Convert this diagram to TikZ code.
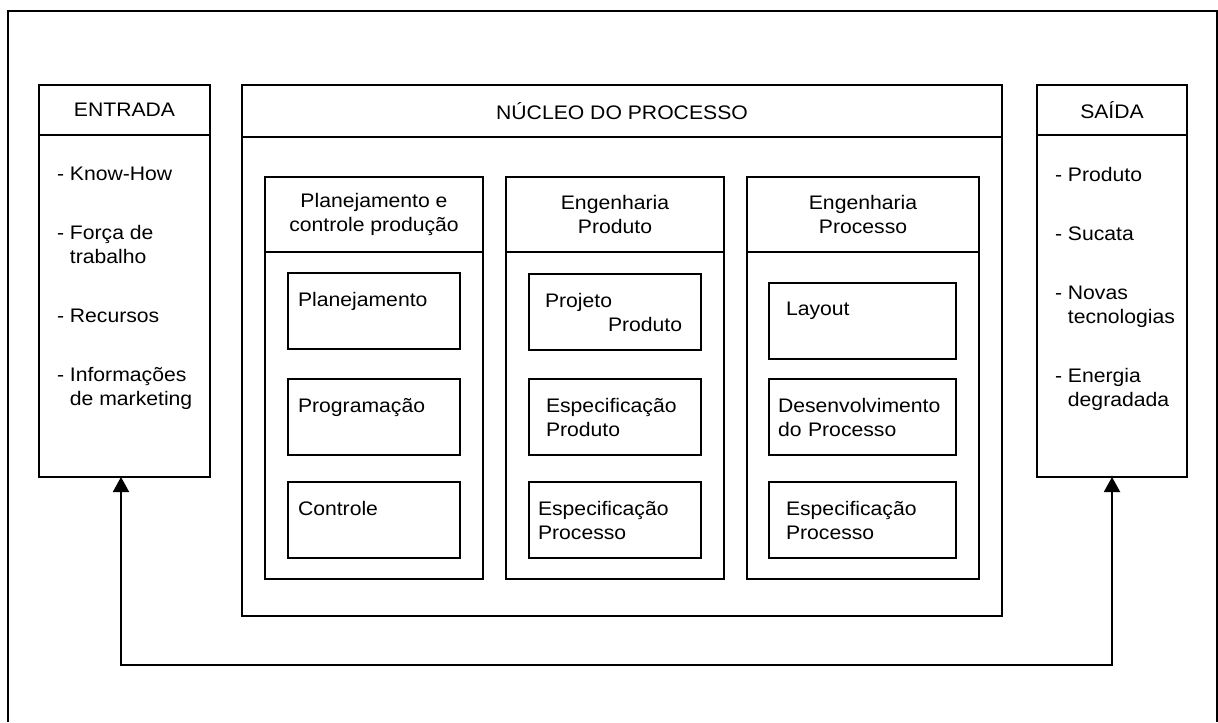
\documentclass[tikz,border=0pt]{standalone}
\usepackage{fontspec}
\setmainfont{Liberation Sans}[FakeStretch=1.08]
\usetikzlibrary{arrows.meta,positioning}
\tikzset{
  flow/.style={>={Triangle[length=7.5pt,width=8pt]},line width=1pt},
  head/.style={draw,align=center,inner sep=0pt,outer sep=0pt},
  body/.style={draw,inner sep=0pt,outer sep=0pt},
  task/.style={draw,inner sep=0pt,outer sep=0pt,align=left,text width=#1,
    minimum width=86pt,minimum height=38pt,anchor=north west},
  list/.style={align=left,inner sep=0pt,anchor=north west},
}

\begin{document}
\begin{tikzpicture}[flow,x=0.5pt,y=-0.5pt,font=\fontsize{9.8}{12}\selectfont]
\useasboundingbox (0,0) rectangle (1218,722);
% outer frame, open at the bottom
\draw (8,722) -- (8,11) -- (1217,11) -- (1217,722);

% input side
\node[head,anchor=north west,minimum width=85.5pt,minimum height=25pt] (inputH) at (39,85) {ENTRADA};
\node[body,below=0pt of inputH,minimum width=85.5pt,minimum height=171pt] (input) {};
\node[list] (inputL) at (56,166)
  {- Know-How\\[17.5pt]- Força de\\\hphantom{- }trabalho\\[17.5pt]- Recursos\\[17.5pt]- Informações\\\hphantom{- }de marketing};

% process core
\node[head,anchor=north west,minimum width=380pt,minimum height=26pt] (coreH) at (242,85) {NÚCLEO DO PROCESSO};
\node[body,below=0pt of coreH,minimum width=380pt,minimum height=239.5pt] (core) {};

\node[head,anchor=north west,minimum width=109pt,minimum height=37.5pt] (pcpH) at (265,177) {Planejamento e\\controle produção};
\node[body,below=0pt of pcpH,minimum width=109pt,minimum height=163.5pt] (pcp) {};
\node[head,anchor=north west,minimum width=109pt,minimum height=37.5pt] (prodH) at (506,177) {Engenharia\\Produto};
\node[body,below=0pt of prodH,minimum width=109pt,minimum height=163.5pt] (prod) {};
\node[head,anchor=north west,minimum width=116pt,minimum height=37.5pt] (procH) at (747,177) {Engenharia\\Processo};
\node[body,below=0pt of procH,minimum width=116pt,minimum height=163.5pt] (proc) {};

% planning column
\node[task=76pt] (plan) at (288,273) {Planejamento\\\mbox{}};
\node[task=76pt,below=15pt of plan] (prog) {Programação\\\mbox{}};
\node[task=76pt,below=13.5pt of prog] (ctrl) {Controle\\\mbox{}};

% product column
\node[task=70pt] (proj) at (529,274) {Projeto\\\hspace*{31.5pt}Produto};
\node[task=69pt,below=14.5pt of proj] (specP) {Especificação\\Produto};
\node[task=77pt,below=13.5pt of specP] (specR) {Especificação\\Processo};

% process column
\node[task=76.5pt,minimum width=93.5pt] (lay) at (769,283) {Layout\\\mbox{}};
\node[task=84.5pt,minimum width=93.5pt,below=10pt of lay] (dev) {Desenvolvimento\\do Processo};
\node[task=76.5pt,minimum width=93.5pt,below=13.5pt of dev] (specR2) {Especificação\\Processo};

% output side
\node[head,anchor=north west,minimum width=75pt,minimum height=25pt] (outputH) at (1037,85) {SAÍDA};
\node[body,below=0pt of outputH,minimum width=75pt,minimum height=171pt] (output) {};
\node[list] (outputL) at (1054,166)
  {- Produto\\[17.5pt]- Sucata\\[17.5pt]- Novas\\\hphantom{- }tecnologias\\[17.5pt]- Energia\\\hphantom{- }degradada};

% feedback loop
\coordinate (backL) at (121,665);
\coordinate (backR) at (1112,665);
\draw[<->] (input.south -| backL) -- (backL) -- (backR) -- (output.south -| backR);
\end{tikzpicture}
\end{document}
